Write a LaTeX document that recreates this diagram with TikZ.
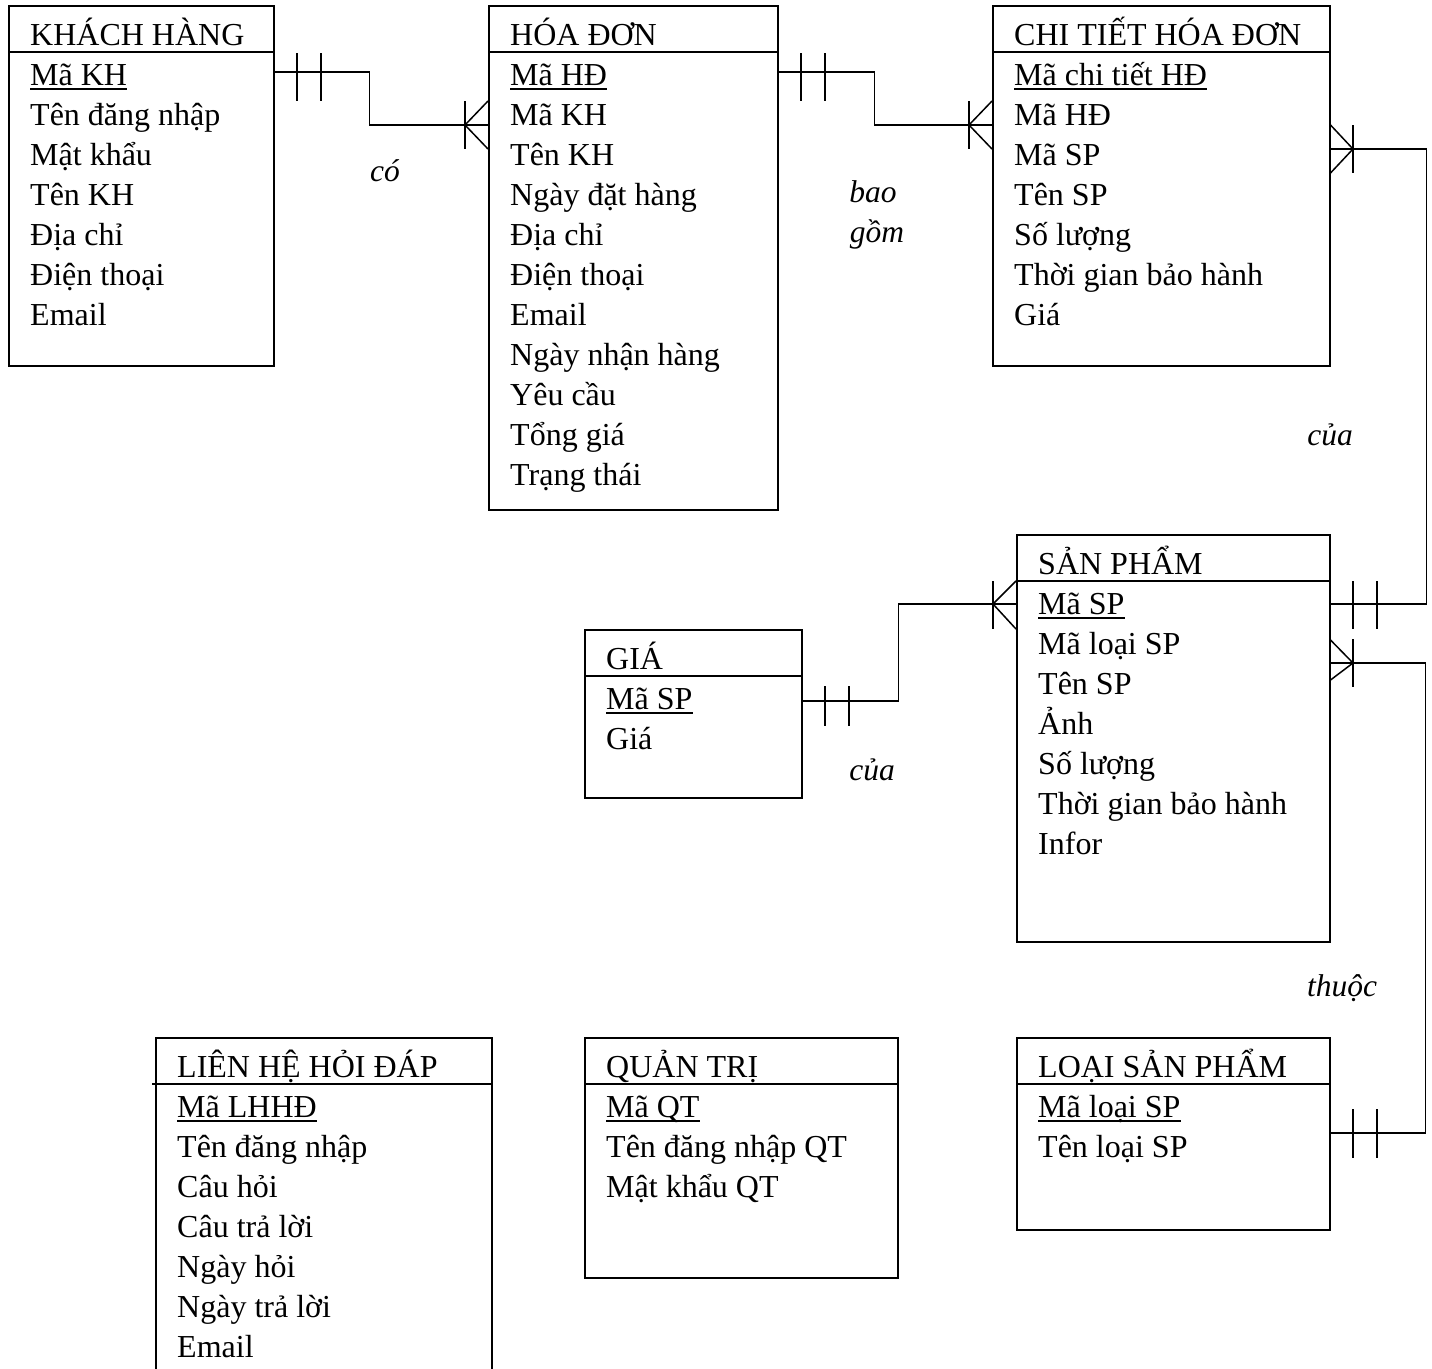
\documentclass[tikz,border=0pt]{standalone}
\usepackage{fontspec}
\setmainfont{Liberation Serif}
\usetikzlibrary{calc}
\begin{document}
\begin{tikzpicture}[x=1pt,y=-1pt,
  ln/.style={line width=1.5pt},
  ent/.style={draw,line width=1.5pt,anchor=north west,inner sep=0pt},
  txt/.style={anchor=base west,inner sep=0pt,font=\fontsize{32}{38}\selectfont},
  lbl/.style={anchor=base,inner sep=0pt,font=\fontsize{31.5}{37}\selectfont\itshape}]
\path[use as bounding box] (0,0) rectangle (1432,1368);
\clip (0,0) rectangle (1432,1368);

% ---------- entity boxes ----------
\node[ent,minimum width=265pt,minimum height=360pt] (kh) at (8,5) {};
\node[ent,minimum width=289pt,minimum height=504pt] (hd) at (488,5) {};
\node[ent,minimum width=337pt,minimum height=360pt] (ct) at (992,5) {};
\node[ent,minimum width=313pt,minimum height=407pt] (sp) at (1016,534) {};
\node[ent,minimum width=217pt,minimum height=168pt] (gia) at (584,629) {};
\node[ent,minimum width=336pt,minimum height=360pt] (lh) at (155,1037) {};
\node[ent,minimum width=313pt,minimum height=240pt] (qt) at (584,1037) {};
\node[ent,minimum width=313pt,minimum height=192pt] (lsp) at (1016,1037) {};

% header separators
\foreach \e in {kh,hd,ct,sp,gia,qt,lsp}
  \draw[ln] ($(\e.north west)+(0,47)$) -- ($(\e.north east)+(0,47)$);
\draw[ln] ($(lh.north west)+(-3,47)$) -- ($(lh.north east)+(0,47)$);

% ---------- KHÁCH HÀNG ----------
\node[txt] (khh) at (30,45) {KHÁCH HÀNG};
\node[txt] (khk) at (30,85) {Mã KH};
\foreach [count=\i] \t in {Tên đăng nhập,Mật khẩu,Tên KH,Địa chỉ,Điện thoại,Email}
  \node[txt] (kh-\i) at (30,85+40*\i) {\t};

% ---------- HÓA ĐƠN ----------
\node[txt] (hdh) at (510,45) {HÓA ĐƠN};
\node[txt] (hdk) at (510,85) {Mã HĐ};
\foreach [count=\i] \t in {Mã KH,Tên KH,Ngày đặt hàng,Địa chỉ,Điện thoại,Email,Ngày nhận hàng,Yêu cầu,Tổng giá,Trạng thái}
  \node[txt] (hd-\i) at (510,85+40*\i) {\t};

% ---------- CHI TIẾT HÓA ĐƠN ----------
\node[txt] (cth) at (1014,45) {CHI TIẾT HÓA ĐƠN};
\node[txt] (ctk) at (1014,85) {Mã chi tiết HĐ};
\foreach [count=\i] \t in {Mã HĐ,Mã SP,Tên SP,Số lượng,Thời gian bảo hành,Giá}
  \node[txt] (ct-\i) at (1014,85+40*\i) {\t};

% ---------- SẢN PHẨM ----------
\node[txt] (sph) at (1038,574) {SẢN PHẨM};
\node[txt] (spk) at (1038,614) {Mã SP};
\foreach [count=\i] \t in {Mã loại SP,Tên SP,Ảnh,Số lượng,Thời gian bảo hành,Infor}
  \node[txt] (sp-\i) at (1038,614+40*\i) {\t};

% ---------- GIÁ ----------
\node[txt] (giah) at (606,669) {GIÁ};
\node[txt] (giak) at (606,709) {Mã SP};
\node[txt] (gia-1) at (606,749) {Giá};

% ---------- LIÊN HỆ HỎI ĐÁP ----------
\node[txt] (lhh) at (177,1077) {LIÊN HỆ HỎI ĐÁP};
\node[txt] (lhk) at (177,1117) {Mã LHHĐ};
\foreach [count=\i] \t in {Tên đăng nhập,Câu hỏi,Câu trả lời,Ngày hỏi,Ngày trả lời,Email}
  \node[txt] (lh-\i) at (177,1117+40*\i) {\t};

% ---------- QUẢN TRỊ ----------
\node[txt] (qth) at (606,1077) {QUẢN TRỊ};
\node[txt] (qtk) at (606,1117) {Mã QT};
\node[txt] (qt-1) at (606,1157) {Tên đăng nhập QT};
\node[txt] (qt-2) at (606,1197) {Mật khẩu QT};

% ---------- LOẠI SẢN PHẨM ----------
\node[txt] (lsph) at (1038,1077) {LOẠI SẢN PHẨM};
\node[txt] (lspk) at (1038,1117) {Mã loại SP};
\node[txt] (lsp-1) at (1038,1157) {Tên loại SP};

% underlines of keys
\foreach \k in {khk,hdk,ctk,spk,giak,lhk,qtk,lspk}
  \draw[line width=1.5pt] ([yshift=-4pt]\k.base west) -- ([yshift=-4pt]\k.base east);

% ---------- connectors ----------
% KHÁCH HÀNG -- HÓA ĐƠN
\draw[ln] ($(kh.north east)+(0,67)$) -- ++(95,0) |- ($(hd.north west)+(0,120)$);
\draw[ln] (297,53) -- (297,101) (321,53) -- (321,101);
\draw[ln] (465,101) -- (465,149);
\draw[ln] ($(hd.north west)+(0,96)$) -- (465,125) -- ($(hd.north west)+(0,144)$);

% HÓA ĐƠN -- CHI TIẾT HÓA ĐƠN
\draw[ln] ($(hd.north east)+(0,67)$) -- ++(96,0) |- ($(ct.north west)+(0,120)$);
\draw[ln] (801,53) -- (801,101) (825,53) -- (825,101);
\draw[ln] (969,101) -- (969,149);
\draw[ln] ($(ct.north west)+(0,96)$) -- (969,125) -- ($(ct.north west)+(0,144)$);

% CHI TIẾT HÓA ĐƠN -- SẢN PHẨM
\draw[ln] ($(ct.north east)+(0,144)$) -- ++(96,0) |- ($(sp.north east)+(0,70)$);
\draw[ln] (1353,125) -- (1353,173);
\draw[ln] ($(ct.north east)+(0,120)$) -- (1353,149) -- ($(ct.north east)+(0,168)$);
\draw[ln] (1353,581) -- (1353,629) (1377,581) -- (1377,629);

% LOẠI SẢN PHẨM -- SẢN PHẨM
\draw[ln] ($(lsp.north east)+(0,96)$) -- ++(95,0) |- ($(sp.north east)+(0,129)$);
\draw[ln] (1353,639) -- (1353,687);
\draw[ln] ($(sp.north east)+(0,106)$) -- (1353,663) -- ($(sp.north east)+(0,146)$);
\draw[ln] (1353,1109) -- (1353,1158) (1377,1109) -- (1377,1158);

% GIÁ -- SẢN PHẨM
\draw[ln] ($(gia.north east)+(0,72)$) -- ++(96,0) |- ($(sp.north west)+(0,70)$);
\draw[ln] (825,686) -- (825,726) (849,686) -- (849,726);
\draw[ln] (993,581) -- (993,629);
\draw[ln] ($(sp.north west)+(0,47)$) -- (993,604) -- ($(sp.north west)+(0,95)$);

% ---------- relationship labels ----------
\node[lbl] (r1) at (385,181) {có};
\node[lbl] (r2a) at (873,202) {bao};
\node[lbl] (r2b) at (877,242) {gồm};
\node[lbl] (r3) at (1330,445) {của};
\node[lbl] (r4) at (872,780) {của};
\node[lbl] (r5) at (1342,996) {thuộc};
\end{tikzpicture}
\end{document}
